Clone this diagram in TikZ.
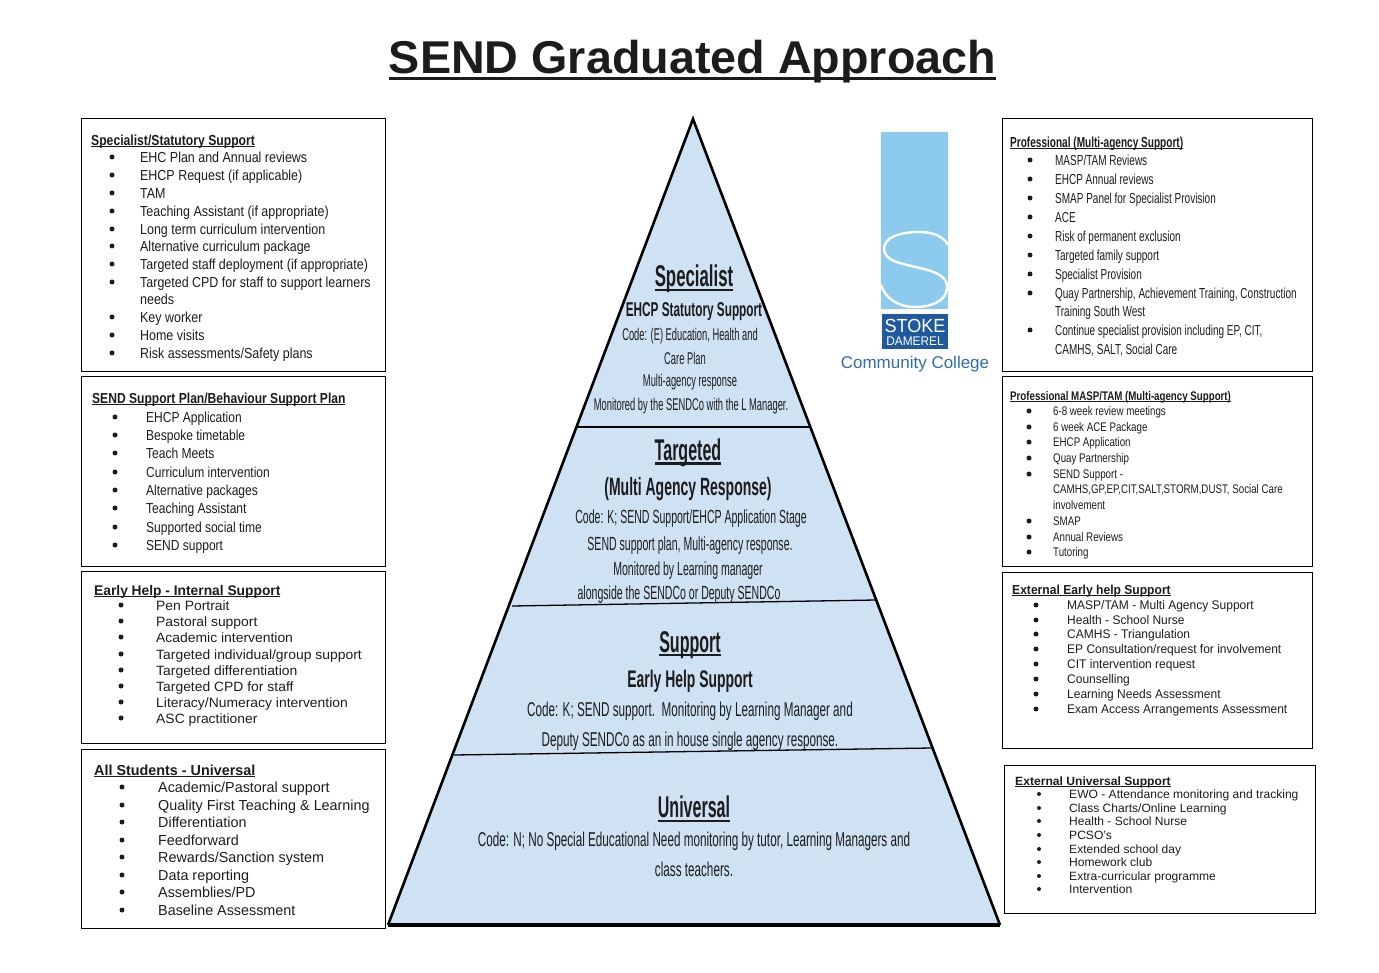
\documentclass[tikz,border=0pt]{standalone}
\usepackage{fontspec}
\setmainfont{Liberation Sans}
\definecolor{pyrblue}{HTML}{CFE2F3}
\definecolor{logolight}{HTML}{8CCBEE}
\definecolor{logodark}{HTML}{1F5A9E}
\definecolor{logotext}{HTML}{2F6EA8}
\definecolor{inkgrey}{HTML}{1C1C1C}
\newlength\ulwidth
\newcommand{\ulinetext}[1]{\settowidth{\ulwidth}{#1}\rlap{\rule[-.13em]{\ulwidth}{.07em}}#1}
\tikzset{
	listbox/.style={draw=black,line width=1pt},
	listhead/.style={anchor=west,inner sep=0pt,yshift=-2.5pt,text=inkgrey,transform shape,text height=.72em,text depth=.2em,font=\bfseries\fontsize{#1}{#1}\selectfont},
	listitem/.style={anchor=west,inner sep=0pt,yshift=-2.5pt,text=inkgrey,transform shape,text height=.72em,text depth=.2em,font=\fontsize{#1}{#1}\selectfont},
	listdot/.style={circle,fill=inkgrey,inner sep=0pt,minimum size=5pt},
	pyrtext/.style={inner sep=0pt,yshift=-2pt,text=inkgrey,transform shape,font=\fontsize{#1}{#1}\selectfont},
	pyrhead/.style={inner sep=0pt,yshift=-2pt,text=inkgrey,transform shape,font=\bfseries\fontsize{#1}{#1}\selectfont},
	pyrline/.style={draw=black,line width=1.3pt}
}
\begin{document}
\begin{tikzpicture}[x=1pt,y=-1pt]
	\useasboundingbox (0,0) rectangle (1379,973);

	% Titel
	\node[pyrhead=46,xscale=1.015] (title) at (692.5,60) {\ulinetext{SEND Graduated Approach}};

	% Pyramide
	\coordinate (apex) at (693,119);
	\coordinate (baseL) at (388,925);
	\coordinate (baseR) at (1000,925);
	\fill[pyrblue] (apex) -- (baseR) -- (baseL) -- cycle;
	\draw[black,line width=2.6pt,line join=miter] (baseL) -- (apex) -- (baseR);
	\draw[black,line width=3.4pt] (baseL) -- (baseR);
	\coordinate (divAL) at (577,427);
	\coordinate (divAR) at (810,427);
	\coordinate (divBL) at (512,606);
	\coordinate (divBR) at (876,600);
	\coordinate (divCL) at (454,755);
	\coordinate (divCR) at (932,748);
	\draw[pyrline] (divAL) -- (divAR);
	\draw[pyrline] (divBL) -- (divBR);
	\draw[pyrline] (divCL) -- (divCR);

	% Pyramide: Specialist
	\node[pyrhead=30,xscale=.56] (specA) at (694,277) {\ulinetext{Specialist}};
	\node[pyrhead=20,xscale=.59] (specB) at (694,310) {EHCP Statutory Support};
	\node[pyrtext=17,xscale=.55] (specC) at (690,334) {Code: (E) Education, Health and};
	\node[pyrtext=17,xscale=.55] (specD) at (685,356) {Care Plan};
	\node[pyrtext=17,xscale=.55] (specE) at (690,380) {Multi-agency response};
	\node[pyrtext=17,xscale=.55] (specF) at (691,404) {Monitored by the SENDCo with the L Manager.};

	% Pyramide: Targeted
	\node[pyrhead=30,xscale=.535] (targA) at (688,451) {\ulinetext{Targeted}};
	\node[pyrhead=25,xscale=.56] (targB) at (688,487) {(Multi Agency Response)};
	\node[pyrtext=19,xscale=.555] (targC) at (691,517) {Code: K; SEND Support/EHCP Application Stage};
	\node[pyrtext=19,xscale=.555] (targD) at (690,544) {SEND support plan, Multi-agency response.};
	\node[pyrtext=19,xscale=.555] (targE) at (688,569) {Monitored by Learning manager};
	\node[pyrtext=19,xscale=.555] (targF) at (679,593) {alongside the SENDCo or Deputy SENDCo};

	% Pyramide: Support
	\node[pyrhead=30,xscale=.535] (suppA) at (690,643) {\ulinetext{Support}};
	\node[pyrhead=24,xscale=.58] (suppB) at (690,679) {Early Help Support};
	\node[pyrtext=20,xscale=.585] (suppC) at (690,709) {Code: K; SEND support.\ \ Monitoring by Learning Manager and};
	\node[pyrtext=20,xscale=.585] (suppD) at (690,739) {Deputy SENDCo as an in house single agency response.};

	% Pyramide: Universal
	\node[pyrhead=30,xscale=.535] (univA) at (694,807) {\ulinetext{Universal}};
	\node[pyrtext=20,xscale=.585] (univB) at (694,839) {Code: N; No Special Educational Need monitoring by tutor, Learning Managers and};
	\node[pyrtext=20,xscale=.585] (univC) at (694,867) {class teachers.};

	% Logo
	\fill[logolight] (881,132) rectangle (948,309);
	\begin{scope}
		\clip (881,132) rectangle (948,309);
		\draw[white,line width=2.4pt] (948,245) .. controls (943,235) and (930,232) .. (920,232)
			.. controls (898,232) and (884,238) .. (884,249)
			.. controls (884,262) and (905,264) .. (920,268)
			.. controls (938,272) and (948,278) .. (947,288)
			.. controls (946,302) and (930,307) .. (915,307)
			.. controls (898,307) and (885,298) .. (881,285);
	\end{scope}
	\fill[logodark] (882,314) rectangle (948,349);
	\node[pyrtext=19,text=white,xscale=.95] (logoA) at (915,323.5) {STOKE};
	\node[pyrtext=12.5,text=white,xscale=.95] (logoB) at (915,339.5) {DAMEREL};
	\node[pyrtext=17,text=logotext,xscale=1] (logoC) at (915,362) {Community College};

	% Box links oben
	\draw[listbox] (81,119) rectangle (385,372);
	\node[listhead=14.5,xscale=.84] (lah) at (91,140) {\ulinetext{Specialist/Statutory Support}};
	\foreach \y/\t [count=\i] in {157/EHC Plan and Annual reviews,175/EHCP Request (if applicable),193/TAM,211/Teaching Assistant (if appropriate),229/Long term curriculum intervention,246/Alternative curriculum package,264/Targeted staff deployment (if appropriate),282/Targeted CPD for staff to support learners,317/Key worker,335/Home visits,353/{Risk assessments/Safety plans}} {
		\node[listdot] (lad\i) at (112,\y) {};
		\node[listitem=14.5,xscale=.86] (la\i) at (140,\y) {\t};
	}
	\node[listitem=14.5,xscale=.86] (laX) at (140,299) {needs};

	% Box links zwei
	\draw[listbox] (81,377) rectangle (385,566);
	\node[listhead=14.5,xscale=.834] (lbh) at (92,398) {\ulinetext{SEND Support Plan/Behaviour Support Plan}};
	\foreach \y/\t [count=\i] in {417/EHCP Application,435/Bespoke timetable,453/Teach Meets,472/Curriculum intervention,490/Alternative packages,508/Teaching Assistant,527/Supported social time,545/SEND support} {
		\node[listdot] (lbd\i) at (115,\y) {};
		\node[listitem=14.5,xscale=.83] (lb\i) at (146,\y) {\t};
	}

	% Box links drei
	\draw[listbox] (81,571) rectangle (385,743);
	\node[listhead=14,xscale=.985] (lch) at (94,590) {\ulinetext{Early Help - Internal Support}};
	\foreach \y/\t [count=\i] in {605/Pen Portrait,621/Pastoral support,637/Academic intervention,654/{Targeted individual/group support},670/Targeted differentiation,686/Targeted CPD for staff,702/{Literacy/Numeracy intervention},718/ASC practitioner} {
		\node[listdot] (lcd\i) at (121,\y) {};
		\node[listitem=13.5,xscale=1.03] (lc\i) at (156,\y) {\t};
	}

	% Box links unten
	\draw[listbox] (81,749) rectangle (385,928);
	\node[listhead=14.5,xscale=.99] (ldh) at (94,770) {\ulinetext{All Students - Universal}};
	\foreach \y/\t [count=\i] in {787/{Academic/Pastoral support},805/Quality First Teaching \& Learning,822/Differentiation,840/Feedforward,857/{Rewards/Sanction system},875/Data reporting,892/{Assemblies/PD},910/Baseline Assessment} {
		\node[listdot] (ldd\i) at (122,\y) {};
		\node[listitem=14.5,xscale=.99] (ld\i) at (158,\y) {\t};
	}

	% Box rechts oben
	\draw[listbox] (1002,119) rectangle (1312,372);
	\node[listhead=14.5,xscale=.695] (rah) at (1010,142) {\ulinetext{Professional (Multi-agency Support)}};
	\foreach \y/\t [count=\i] in {160/{MASP/TAM Reviews},179/EHCP Annual reviews,198/SMAP Panel for Specialist Provision,217/ACE,236/Risk of permanent exclusion,255/Targeted family support,274/Specialist Provision,293/{Quay Partnership, Achievement Training, Construction},330/{Continue specialist provision including EP, CIT,}} {
		\node[listdot] (rad\i) at (1030,\y) {};
		\node[listitem=14.5,xscale=.69] (ra\i) at (1055,\y) {\t};
	}
	\node[listitem=14.5,xscale=.69] (raX) at (1055,311) {Training South West};
	\node[listitem=14.5,xscale=.69] (raY) at (1055,349) {CAMHS, SALT, Social Care};

	% Box rechts zwei
	\draw[listbox] (1002,377) rectangle (1312,566);
	\node[listhead=12.5,xscale=.778,yshift=1pt] (rbh) at (1010,396) {\ulinetext{Professional MASP/TAM (Multi-agency Support)}};
	\foreach \y/\t [count=\i] in {411/6-8 week review meetings,427/6 week ACE Package,442/EHCP Application,458/Quay Partnership,474/SEND Support -,521/SMAP,537/Annual Reviews,552/Tutoring} {
		\node[listdot] (rbd\i) at (1029,\y) {};
		\node[listitem=12.5,xscale=.78,yshift=1pt] (rb\i) at (1053,\y) {\t};
	}
	\node[listitem=12.5,xscale=.78,yshift=1pt] (rbX) at (1053,489) {CAMHS,GP,EP,CIT,SALT,STORM,DUST, Social Care};
	\node[listitem=12.5,xscale=.78,yshift=1pt] (rbY) at (1053,505) {involvement};

	% Box rechts drei
	\draw[listbox] (1002,572) rectangle (1312,748);
	\node[listhead=13,xscale=.93,yshift=1pt] (rch) at (1012,590) {\ulinetext{External Early help Support}};
	\foreach \y/\t [count=\i] in {605/{MASP/TAM - Multi Agency Support},620/Health - School Nurse,634/CAMHS - Triangulation,649/{EP Consultation/request for involvement},664/CIT intervention request,679/Counselling,694/Learning Needs Assessment,709/Exam Access Arrangements Assessment} {
		\node[listdot] (rcd\i) at (1036,\y) {};
		\node[listitem=12.5,xscale=.96,yshift=1pt] (rc\i) at (1067,\y) {\t};
	}

	% Box rechts unten
	\draw[listbox] (1004,765) rectangle (1315,913);
	\node[listhead=12,xscale=1.01,yshift=1pt] (rdh) at (1015,781) {\ulinetext{External Universal Support}};
	\foreach \y/\t [count=\i] in {794/EWO - Attendance monitoring and tracking,808/{Class Charts/Online Learning},821/Health - School Nurse,835/PCSO's,849/Extended school day,862/Homework club,876/Extra-curricular programme,889/Intervention} {
		\node[listdot,minimum size=4pt] (rdd\i) at (1039,\y) {};
		\node[listitem=12,xscale=1.005,yshift=1pt] (rd\i) at (1069,\y) {\t};
	}
\end{tikzpicture}
\end{document}
